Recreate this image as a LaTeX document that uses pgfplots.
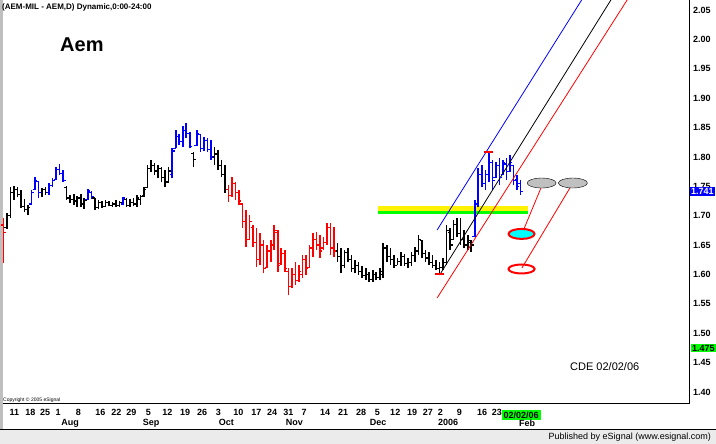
\documentclass[border=0pt]{standalone}
\usepackage{pgfplots}
\pgfplotsset{compat=1.18}
\usepackage{pgfplotstable}
\usepackage{fontspec}
\setmainfont{Liberation Sans}

\definecolor{esgreen}{RGB}{0,255,0}
\definecolor{escyan}{RGB}{0,255,255}
\definecolor{esgray}{RGB}{192,192,192}

% open tick to the left, close tick to the right
\pgfdeclareplotmark{otick}{\pgfpathmoveto{\pgfqpoint{-\pgfplotmarksize}{0pt}}\pgfpathlineto{\pgfqpoint{0pt}{0pt}}\pgfusepathqstroke}
\pgfdeclareplotmark{ctick}{\pgfpathmoveto{\pgfqpoint{0pt}{0pt}}\pgfpathlineto{\pgfqpoint{\pgfplotmarksize}{0pt}}\pgfusepathqstroke}

% daily bars: k = 0 black, 1 blue, 2 red
\pgfplotstableread{
i hi lo o c k
0 1.696 1.619 1.684 1.671 2
1 1.705 1.677 1.680 1.700 0
2 1.749 1.696 1.700 1.740 0
3 1.750 1.727 1.740 1.745 0
4 1.749 1.732 1.745 1.736 0
5 1.744 1.713 1.736 1.716 0
6 1.728 1.706 1.716 1.710 0
7 1.718 1.701 1.710 1.714 0
8 1.744 1.718 1.720 1.740 1
9 1.766 1.744 1.745 1.760 1
10 1.759 1.730 1.758 1.740 1
11 1.747 1.732 1.740 1.744 0
12 1.749 1.735 1.744 1.740 0
13 1.756 1.735 1.740 1.752 1
14 1.764 1.749 1.752 1.760 1
15 1.783 1.761 1.762 1.778 1
16 1.788 1.769 1.778 1.772 1
17 1.778 1.757 1.772 1.760 1
18 1.750 1.727 1.748 1.730 0
19 1.735 1.722 1.730 1.728 0
20 1.737 1.718 1.728 1.725 0
21 1.734 1.715 1.725 1.730 0
22 1.737 1.715 1.730 1.720 0
23 1.730 1.711 1.720 1.726 0
24 1.745 1.727 1.728 1.742 1
25 1.742 1.728 1.740 1.732 1
26 1.730 1.710 1.730 1.714 0
27 1.727 1.711 1.714 1.722 0
28 1.725 1.713 1.722 1.716 0
29 1.727 1.715 1.716 1.722 0
30 1.725 1.716 1.722 1.718 0
31 1.723 1.715 1.718 1.720 0
32 1.727 1.715 1.720 1.718 0
33 1.725 1.715 1.718 1.722 0
34 1.732 1.718 1.720 1.730 1
35 1.730 1.715 1.728 1.718 0
36 1.728 1.715 1.718 1.722 0
37 1.730 1.716 1.722 1.720 0
38 1.735 1.715 1.720 1.730 0
39 1.735 1.718 1.728 1.732 0
40 1.749 1.732 1.735 1.745 0
41 1.786 1.747 1.748 1.780 0
42 1.795 1.774 1.780 1.785 0
43 1.790 1.769 1.785 1.776 0
44 1.786 1.764 1.776 1.780 0
45 1.783 1.757 1.780 1.765 0
46 1.778 1.749 1.765 1.756 0
47 1.783 1.756 1.758 1.776 0
48 1.815 1.764 1.770 1.810 1
49 1.846 1.815 1.815 1.835 1
50 1.839 1.820 1.835 1.826 1
51 1.853 1.817 1.826 1.845 1
52 1.858 1.832 1.845 1.840 1
53 1.842 1.815 1.840 1.818 1
54 1.808 1.783 1.806 1.795 0
55 1.846 1.819 1.820 1.840 1
56 1.839 1.808 1.838 1.815 1
57 1.834 1.810 1.815 1.828 1
58 1.832 1.808 1.828 1.812 1
59 1.829 1.795 1.812 1.800 1
60 1.817 1.786 1.800 1.805 0
61 1.812 1.778 1.805 1.785 0
62 1.795 1.766 1.785 1.770 0
63 1.786 1.739 1.770 1.745 0
64 1.752 1.723 1.745 1.735 2
65 1.766 1.732 1.735 1.755 2
66 1.757 1.727 1.755 1.740 2
67 1.744 1.718 1.740 1.725 2
68 1.722 1.679 1.720 1.690 2
69 1.710 1.647 1.690 1.660 2
70 1.701 1.659 1.660 1.690 2
71 1.684 1.647 1.680 1.655 2
72 1.679 1.613 1.655 1.625 2
73 1.671 1.616 1.625 1.650 2
74 1.659 1.602 1.650 1.610 2
75 1.650 1.611 1.612 1.640 2
76 1.659 1.621 1.640 1.650 2
77 1.684 1.642 1.650 1.675 2
78 1.676 1.604 1.672 1.615 2
79 1.645 1.616 1.618 1.635 2
80 1.642 1.604 1.635 1.610 2
81 1.611 1.565 1.605 1.580 2
82 1.611 1.577 1.580 1.600 2
83 1.621 1.582 1.600 1.590 2
84 1.616 1.587 1.590 1.605 2
85 1.633 1.594 1.600 1.625 2
86 1.633 1.599 1.625 1.610 2
87 1.650 1.611 1.612 1.645 2
88 1.671 1.630 1.645 1.660 2
89 1.672 1.642 1.660 1.650 2
90 1.667 1.628 1.650 1.640 2
91 1.664 1.642 1.645 1.655 2
92 1.688 1.650 1.655 1.680 2
93 1.688 1.633 1.680 1.645 2
94 1.681 1.630 1.645 1.640 2
95 1.654 1.621 1.640 1.630 0
96 1.645 1.602 1.630 1.615 0
97 1.642 1.611 1.615 1.638 0
98 1.645 1.621 1.638 1.625 0
99 1.633 1.604 1.625 1.610 0
100 1.625 1.602 1.610 1.615 0
101 1.621 1.599 1.615 1.605 0
102 1.614 1.594 1.605 1.598 0
103 1.611 1.590 1.598 1.600 0
104 1.604 1.587 1.600 1.592 0
105 1.607 1.587 1.592 1.600 0
106 1.604 1.590 1.600 1.595 0
107 1.611 1.590 1.595 1.605 0
108 1.654 1.594 1.600 1.645 0
109 1.650 1.621 1.645 1.630 0
110 1.645 1.616 1.630 1.625 0
111 1.633 1.611 1.625 1.615 0
112 1.628 1.616 1.615 1.622 0
113 1.638 1.614 1.622 1.630 0
114 1.635 1.614 1.630 1.618 0
115 1.628 1.611 1.618 1.620 0
116 1.638 1.614 1.620 1.632 0
117 1.647 1.621 1.632 1.640 0
118 1.667 1.633 1.640 1.660 0
119 1.659 1.628 1.658 1.635 0
120 1.642 1.621 1.635 1.628 0
121 1.638 1.616 1.628 1.620 0
122 1.633 1.611 1.620 1.615 0
123 1.625 1.607 1.615 1.610 0
124 1.621 1.602 1.610 1.612 0
125 1.628 1.607 1.612 1.620 0
126 1.684 1.616 1.620 1.675 0
127 1.679 1.642 1.672 1.650 0
128 1.693 1.659 1.660 1.685 0
129 1.696 1.664 1.685 1.670 0
130 1.696 1.650 1.670 1.660 0
131 1.676 1.645 1.660 1.650 0
132 1.667 1.642 1.650 1.658 0
133 1.659 1.638 1.655 1.650 0
134 1.727 1.664 1.665 1.720 1
135 1.781 1.715 1.720 1.770 1
136 1.786 1.749 1.770 1.755 1
137 1.778 1.744 1.755 1.770 1
138 1.808 1.757 1.770 1.790 1
139 1.795 1.744 1.790 1.760 1
140 1.791 1.764 1.765 1.785 1
141 1.798 1.752 1.785 1.765 1
142 1.795 1.769 1.770 1.790 1
143 1.798 1.761 1.788 1.775 1
144 1.803 1.774 1.775 1.790 1
145 1.786 1.752 1.786 1.760 1
146 1.769 1.744 1.762 1.750 1
147 1.761 1.735 1.755 1.741 1
}\bars

\newcommand{\ohlc}[2]{%
  \addplot[draw=none, mark=none, forget plot,
    restrict expr to domain={\thisrow{k}}{#2:#2},
    error bars/.cd, y dir=plus, y explicit, error mark=none,
    error bar style={draw=#1, line width=1.6pt}]
    table[x=i, y=lo, y error expr=\thisrow{hi}-\thisrow{lo}] {\bars};
  \addplot[only marks, mark=otick, mark size=2.4pt, forget plot,
    mark options={draw=#1, line width=1.2pt},
    restrict expr to domain={\thisrow{k}}{#2:#2}]
    table[x=i, y=o] {\bars};
  \addplot[only marks, mark=ctick, mark size=2.4pt, forget plot,
    mark options={draw=#1, line width=1.2pt},
    restrict expr to domain={\thisrow{k}}{#2:#2}]
    table[x=i, y=c] {\bars};
}

\begin{document}
\begin{tikzpicture}
\path[use as bounding box] (0pt,0pt) rectangle (716pt,444pt);
\begin{scope}[x=1pt,y=1pt]
  \fill[white] (0,0) rectangle (716,444);
  \fill[black!8] (0,0) rectangle (716,14);
  \fill[black!25] (0,14) rectangle (2.5,444);
\end{scope}

\begin{axis}[
  at={(3pt,40pt)}, anchor=south west,
  scale only axis, width=686pt, height=404pt,
  xmin=-0.1, xmax=194.9, ymin=1.3796, ymax=2.067,
  axis line style={draw=none},
  major tick length=0pt,
  /pgf/number format/assume math mode=true,
  tick label style={font=\bfseries\fontsize{9}{9}\selectfont, inner sep=0pt},
  yticklabel pos=right,
  ytick={1.40,1.45,1.50,1.55,1.60,1.65,1.70,1.75,1.80,1.85,1.90,1.95,2.00,2.05},
  yticklabel style={anchor=west, xshift=4pt,
    /pgf/number format/fixed, /pgf/number format/fixed zerofill,
    /pgf/number format/precision=2},
  xtick={3.1,7.7,11.9,15.6,21.3,27.6,32.1,36.4,41.2,46.6,51.7,56.5,61.1,66.8,71.9,76.4,81.0,85.5,91.5,96.6,101.7,106.3,111.4,116.2,120.7,124.2,129.6,136.1,140.3,147.2},
  xticklabels={11,18,25,1,8,16,22,29,5,12,19,26,3,10,17,24,31,7,14,21,28,5,12,19,27,2,9,16,23,{\setlength{\fboxsep}{2pt}\colorbox{esgreen}{02/02/06}}},
  xticklabel style={anchor=north, yshift=-5.5pt},
  extra x ticks={19.0,42.0,63.4,82.7,106.5,126.4,148.9},
  extra x tick labels={Aug,Sep,Oct,Nov,Dec,2006,Feb},
  extra x tick style={tick label style={yshift=-10pt}},
]
% support band
\addplot[yellow, line width=5pt, forget plot] coordinates {(106.5,1.7122) (149.1,1.7122)};
\addplot[esgreen, line width=3pt, forget plot] coordinates {(106.5,1.7054) (149.1,1.7054)};

\ohlc{black}{0}
\ohlc{blue}{1}
\ohlc{red}{2}

% channel lines
\addplot[blue, line width=0.8pt] coordinates {(123.3,1.6757) (170,2.1205)};
\addplot[black, line width=0.8pt] coordinates {(124.1,1.600) (178,2.118)};
\addplot[red, line width=0.8pt] coordinates {(123.3,1.560) (182,2.111)};

% high / low markers
\addplot[only marks, red, mark=-, mark size=4.5pt, mark options={line width=2pt}] coordinates {(138,1.809) (124,1.601)};

% target ellipses
\addplot[red, line width=0.8pt] coordinates {(147.4,1.669) (153.4,1.7556)};
\addplot[red, line width=0.8pt] coordinates {(147.4,1.611) (161.9,1.7556)};
\addplot[only marks, mark=*, mark size=5pt, mark options={xscale=2.9, fill=esgray, draw=none}] coordinates {(153.0,1.7556) (161.9,1.7556)};
\addplot[only marks, mark=*, mark size=5pt, mark options={xscale=2.6, fill=escyan, draw=red, line width=2pt}] coordinates {(147.3,1.669)};
\addplot[only marks, mark=o, mark size=4.5pt, mark options={xscale=2.9, draw=red, line width=2pt}] coordinates {(147.3,1.6093)};
\end{axis}

\begin{scope}[x=1pt,y=1pt]
  \draw[line width=1pt] (3,40) -- (689,40) -- (689,444);
  \draw[line width=1pt] (0,14) -- (716,14);
  \node[anchor=west, inner sep=0pt, font=\bfseries\fontsize{8}{8}\selectfont] at (2,437) {(AEM-MIL - AEM,D) Dynamic,0:00-24:00};
  \node[anchor=west, inner sep=0pt, font=\bfseries\fontsize{20}{20}\selectfont] at (60,399) {Aem};
  \node[anchor=west, inner sep=0pt, font=\fontsize{11}{11}\selectfont] at (570,77) {CDE 02/02/06};
  \node[anchor=west, inner sep=0pt, font=\fontsize{5}{5}\selectfont] at (3,44) {Copyright © 2005 eSignal};
  \node[anchor=east, inner sep=0pt, font=\fontsize{9}{9}\selectfont] at (711,7) {Published by eSignal (www.esignal.com)};
  \node[anchor=west, fill=blue, text=white, inner sep=1pt, font=\bfseries\fontsize{9}{9}\selectfont] at (690,252.4) {1.741};
  \node[anchor=west, fill=esgreen, inner sep=1pt, font=\bfseries\fontsize{9}{9}\selectfont] at (691,96) {1.475};
\end{scope}
\end{tikzpicture}
\end{document}
